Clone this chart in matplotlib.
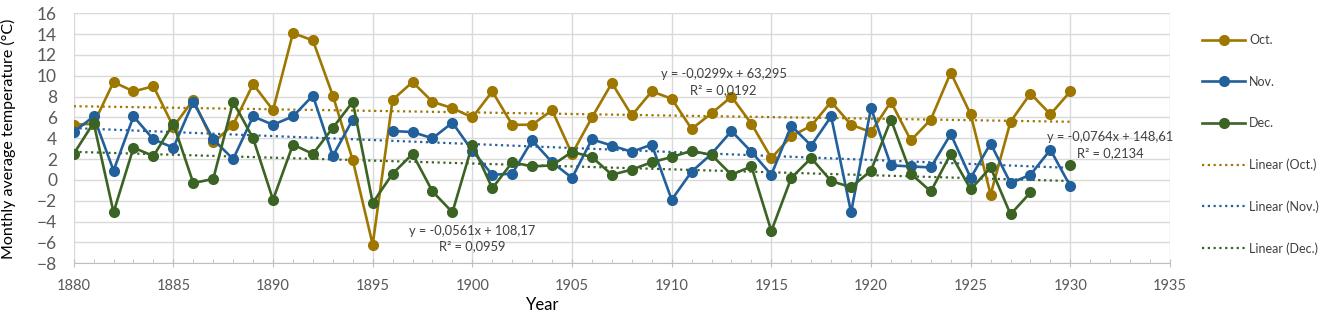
import matplotlib
matplotlib.use("Agg")
import matplotlib.pyplot as plt
import numpy as np

plt.rcParams['font.family'] = ['Lato', 'DejaVu Sans']

# --- Data ---
years = np.arange(1880, 1931)

oct_t = [5.3, 5.4, 9.4, 8.5, 9.0, 5.1, 7.7, 3.6, 5.3, 9.2,
         6.7, 14.1, 13.4, 8.1, 1.9, -6.2, 7.7, 9.4, 7.5, 6.9,
         6.0, 8.5, 5.3, 5.3, 6.7, 2.5, 6.0, 9.3, 6.2, 8.5,
         7.8, 4.9, 6.4, 8.0, 5.4, 2.1, 4.2, 5.2, 7.5, 5.3,
         4.6, 7.5, 3.8, 5.8, 10.3, 6.3, -1.4, 5.6, 8.3, 6.3,
         8.5]

nov_t = [4.6, 6.1, 0.9, 6.1, 3.9, 3.1, 7.5, 3.9, 2.0, 6.1,
         5.3, 6.1, 8.1, 2.3, 5.8, np.nan, 4.7, 4.6, 4.0, 5.5,
         2.8, 0.5, 0.6, 3.8, 1.7, 0.2, 3.9, 3.3, 2.7, 3.4,
         -1.9, 0.8, 2.5, 4.7, 2.7, 0.5, 5.2, 3.3, 6.1, -3.1,
         6.9, 1.4, 1.3, 1.2, 4.4, 0.2, 3.5, -0.3, 0.5, 2.9,
         -0.6]

dec_t = [2.5, 5.5, -3.1, 3.1, 2.3, 5.4, -0.3, 0.1, 7.5, 4.0,
         -1.9, 3.4, 2.5, 5.0, 7.5, -2.2, 0.6, 2.5, -1.1, -3.1,
         3.4, -0.8, 1.7, 1.3, 1.4, 2.7, 2.2, 0.5, 1.0, 1.7,
         2.2, 2.8, 2.4, 0.5, 1.3, -4.9, 0.2, 2.1, -0.1, -0.7,
         0.9, 5.8, 0.6, -1.1, 2.5, -0.9, 1.2, -3.3, -1.2, np.nan,
         1.4]

labels = ['Oct.', 'Nov.', 'Dec.']
colors = ['#9E7700', '#22609C', '#3B6323']

# trend line coefficients as printed on the chart
slopes = [-0.0299, -0.0764, -0.0561]
intercepts = [63.295, 148.61, 108.17]
r2 = ['0,0192', '0,2134', '0,0959']
eq_pos = [(1912.6, 9.4), (1932.0, 3.35), (1900.0, -5.65)]

# --- Plot ---
fig = plt.figure(figsize=(13.25, 3.18), dpi=100)
ax = fig.add_axes([73.7 / 1325, 1 - 263.3 / 318, 1096.3 / 1325, 250 / 318])

series = [oct_t, nov_t, dec_t]
for vals, lab, col in zip(series, labels, colors):
    ax.plot(years, vals, '-o', color=col, lw=1.9, ms=7, label=lab, zorder=3)

tx = np.array([years[0], years[-1]])
for k, lab, col in zip(range(3), labels, colors):
    ax.plot(tx, slopes[k] * tx + intercepts[k], color=col, lw=1.6,
            linestyle=(0, (1, 1.6)), label=f'Linear ({lab})', zorder=2)

for k in range(3):
    txt = (f'y = {slopes[k]}x + {intercepts[k]}'.replace('.', ',')
           + f'\nR² = {r2[k]}')
    ax.text(eq_pos[k][0], eq_pos[k][1], txt, ha='center', va='center',
            multialignment='center', fontsize=9.3, linespacing=1.35,
            color='#404040', zorder=4)

ax.set_xlim(1880, 1935)
ax.set_ylim(-8, 16)
ax.set_xticks(np.arange(1880, 1936, 5))
ax.set_xticks(np.arange(1880, 1936, 1), minor=True)
ax.set_yticks(np.arange(-8, 17, 2))
ax.grid(True, color='#d9d9d9', lw=1, zorder=0)
for s in ['top', 'right', 'left']:
    ax.spines[s].set_visible(False)
ax.spines['bottom'].set_color('#bfbfbf')
ax.tick_params(axis='y', length=0, pad=12, labelsize=12.5, labelcolor='#595959')
ax.tick_params(axis='x', which='major', direction='inout', length=6, color='#bfbfbf',
               pad=8, labelsize=10.5, labelcolor='#595959')
ax.tick_params(axis='x', which='minor', direction='in', length=3, color='#bfbfbf')

ax.set_ylabel('Monthly average temperature (°C)', fontsize=11.5, color='#000000')
ax.yaxis.set_label_coords(-0.053, 0.497)
fig.text(543 / 1325, 1 - 305 / 318, 'Year', ha='center', va='center', fontsize=12)

ax.legend(loc='upper left', bbox_to_anchor=(1196 / 1325, 1 - 28 / 318),
          bbox_transform=fig.transFigure, frameon=False, fontsize=9,
          labelspacing=2.35, handlelength=3.4, handletextpad=0.35, borderpad=0,
          labelcolor='#404040')

fig.savefig('out.png', dpi=100)
